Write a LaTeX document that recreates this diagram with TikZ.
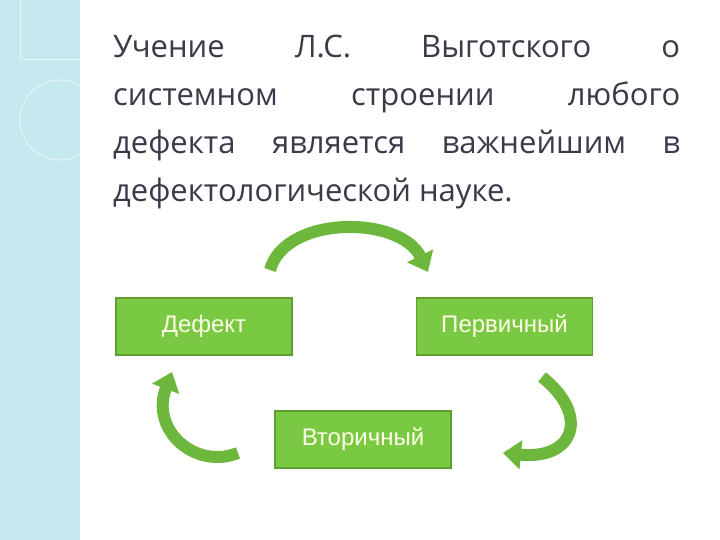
\documentclass[tikz,border=0pt]{standalone}
\usepackage{fontspec}
\setmainfont{Open Sans}
\newfontfamily\boxfont{Liberation Sans}
\usetikzlibrary{arrows.meta}
\definecolor{boxg}{HTML}{7AC943}
\definecolor{boxd}{HTML}{5E9E32}
\definecolor{arrg}{HTML}{6DB83C}
\definecolor{stripe}{HTML}{C6E9F0}
\definecolor{txt}{HTML}{3A3A48}
\tikzset{
  gbox/.style={draw=boxd, line width=1.2pt, fill=boxg, minimum width=176pt, minimum height=57pt, inner sep=0pt, text=white!90!yellow, font=\boxfont\fontsize{24}{28}\selectfont},
  garrow/.style={draw=arrg, line width=12pt, -{Triangle[length=18pt,width=28pt]}}
}
\begin{document}
\begin{tikzpicture}[x=1pt,y=1pt]
\useasboundingbox (0,0) rectangle (720,540);
\fill[white] (0,0) rectangle (720,540);
\fill[stripe] (0,0) rectangle (80,540);
\draw[white, line width=1pt, opacity=0.6] (60,420) circle (40);
\draw[white, line width=1pt, opacity=0.6] (20,540) -- (20,480) -- (80,480);
\node[anchor=north west, text width=567pt, align=justify, text=txt, inner sep=0pt,
  font=\fontsize{31}{48}\selectfont] (title) at (113,505)
  {Учение Л.С. Выготского о\linebreak системном строении любого\linebreak дефекта является важнейшим в\linebreak дефектологической науке.};
\node[gbox] (def) at (204,213.5) {Дефект};
\node[gbox] (per) at (504.5,213.5) {Первичный};
\node[gbox] (vto) at (363,100.5) {Вторичный};
\coordinate (t1) at (270,270);
\coordinate (t2) at (428,268);
\coordinate (r1) at (542,163);
\coordinate (r2) at (503,87);
\coordinate (l1) at (238,87);
\coordinate (l2) at (172,168);
\draw[garrow] (t1) .. controls (285,325) and (400,325) .. (t2);
\draw[garrow] (r1) .. controls (590,125) and (575,80) .. (r2);
\draw[garrow] (l1) .. controls (195,70) and (150,110) .. (l2);
\end{tikzpicture}
\end{document}
